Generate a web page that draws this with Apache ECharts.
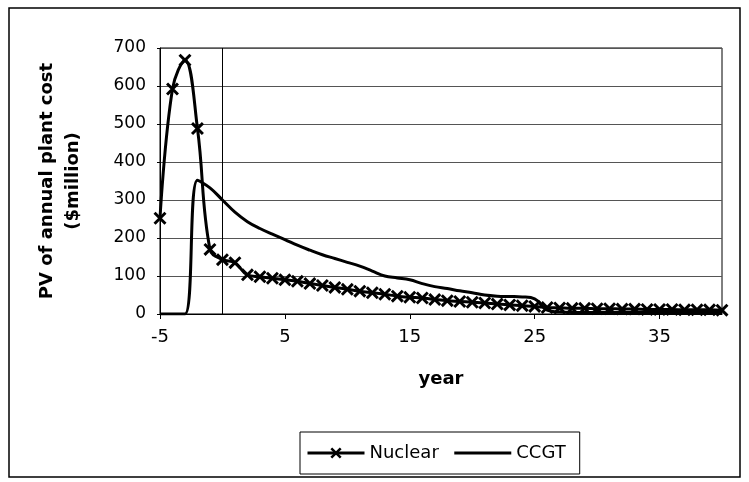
<!DOCTYPE html>
<html>
<head>
<meta charset="utf-8">
<script src="https://cdn.jsdelivr.net/npm/echarts@6/dist/echarts.min.js"></script>
<style>
html,body{margin:0;padding:0;background:#fff;}
#chart{width:749px;height:482px;}
</style>
</head>
<body>
<div id="chart"></div>
<script>
var years = ['-5','-4','-3','-2','-1','0','1','2','3','4','5','6','7','8','9','10','11','12','13','14','15','16','17','18','19','20','21','22','23','24','25','26','27','28','29','30','31','32','33','34','35','36','37','38','39','40'];
var nuclear = [252,592,668,488,170,143,135,103,98,94,90,86,80,75,70,65,60,56,52,47,44,42,38,35,33,31,29,26,24,22,20,17,16,15,15,14,14,13,13,12,12,12,11,11,11,10];
var ccgt = [0,0,0,352,332,300,268,243,225,210,196,181,168,156,146,136,126,113,100,95,90,80,72,67,61,56,50,47,46,45,40,10,5,4,4,4,4,4,4,4,4,4,4,4,4,4];
var yTicks = [0,100,200,300,400,500,600,700];

var FONT = 'DejaVu Sans';
var xMark = 'path://M0,1.6 L1.6,0 L10,8.4 L8.4,10 Z M8.4,0 L10,1.6 L1.6,10 L0,8.4 Z';

var chart = echarts.init(document.getElementById('chart'), null, {renderer: 'canvas'});
chart.setOption({
  animation: false,
  backgroundColor: '#fff',
  textStyle: {fontFamily: FONT, color: '#000'},
  graphic: [{
    type: 'rect', silent: true,
    shape: {x: 9, y: 8, width: 731, height: 469},
    style: {fill: 'none', stroke: '#000', lineWidth: 1.5}
  }],
  grid: {left: 160, right: 27, top: 48, bottom: 168, show: true, borderColor: '#000', borderWidth: 1, backgroundColor: 'transparent'},
  legend: {
    left: 300, top: 432,
    borderColor: '#000', borderWidth: 1, borderRadius: 0,
    padding: [12, 14, 12, 6],
    itemWidth: 57, itemHeight: 14, itemGap: 14,
    lineStyle: {width: 3},
    textStyle: {fontFamily: FONT, fontSize: 18, color: '#000'},
    data: ['Nuclear', 'CCGT']
  },
  xAxis: {
    type: 'category',
    data: years,
    boundaryGap: false,
    name: 'year', nameLocation: 'middle', nameGap: 56,
    nameTextStyle: {fontFamily: FONT, fontSize: 18, fontWeight: 'bold', color: '#000'},
    axisLine: {lineStyle: {color: '#000', width: 1}},
    axisTick: {show: true, interval: 9, length: 5, lineStyle: {color: '#000'}},
    axisLabel: {interval: 9, margin: 14, fontFamily: FONT, fontSize: 18, color: '#000'},
    splitLine: {show: false}
  },
  yAxis: {
    type: 'value', min: 0, max: 700, interval: 100,
    name: 'PV of annual plant cost\n($million)', nameLocation: 'middle', nameGap: 74,
    nameTextStyle: {fontFamily: FONT, fontSize: 18, fontWeight: 'bold', color: '#000', lineHeight: 26},
    axisLine: {show: true, lineStyle: {color: '#000', width: 1}},
    axisTick: {show: true, length: 3, lineStyle: {color: '#000'}},
    axisLabel: {margin: 14, fontFamily: FONT, fontSize: 17, color: '#000',
      formatter: function(v){ return yTicks.indexOf(v) >= 0 ? String(v) : ''; }},
    splitLine: {show: true, lineStyle: {color: '#555', width: 1}}
  },
  series: [
    {
      name: 'Nuclear', type: 'line', data: nuclear, smooth: 0.4,
      symbol: xMark, symbolSize: 13, showAllSymbol: true,
      lineStyle: {color: '#000', width: 3},
      itemStyle: {color: '#000', borderWidth: 0},
      markLine: {
        silent: true, symbol: 'none',
        label: {show: false},
        lineStyle: {color: '#000', width: 1, type: 'solid'},
        data: [{xAxis: '0'}]
      },
      z: 3
    },
    {
      name: 'CCGT', type: 'line', data: ccgt, smooth: 0.4,
      symbol: 'circle', showSymbol: false,
      lineStyle: {color: '#000', width: 3},
      itemStyle: {color: 'rgba(0,0,0,0)', borderWidth: 0},
      z: 2
    }
  ]
});
</script>
</body>
</html>
